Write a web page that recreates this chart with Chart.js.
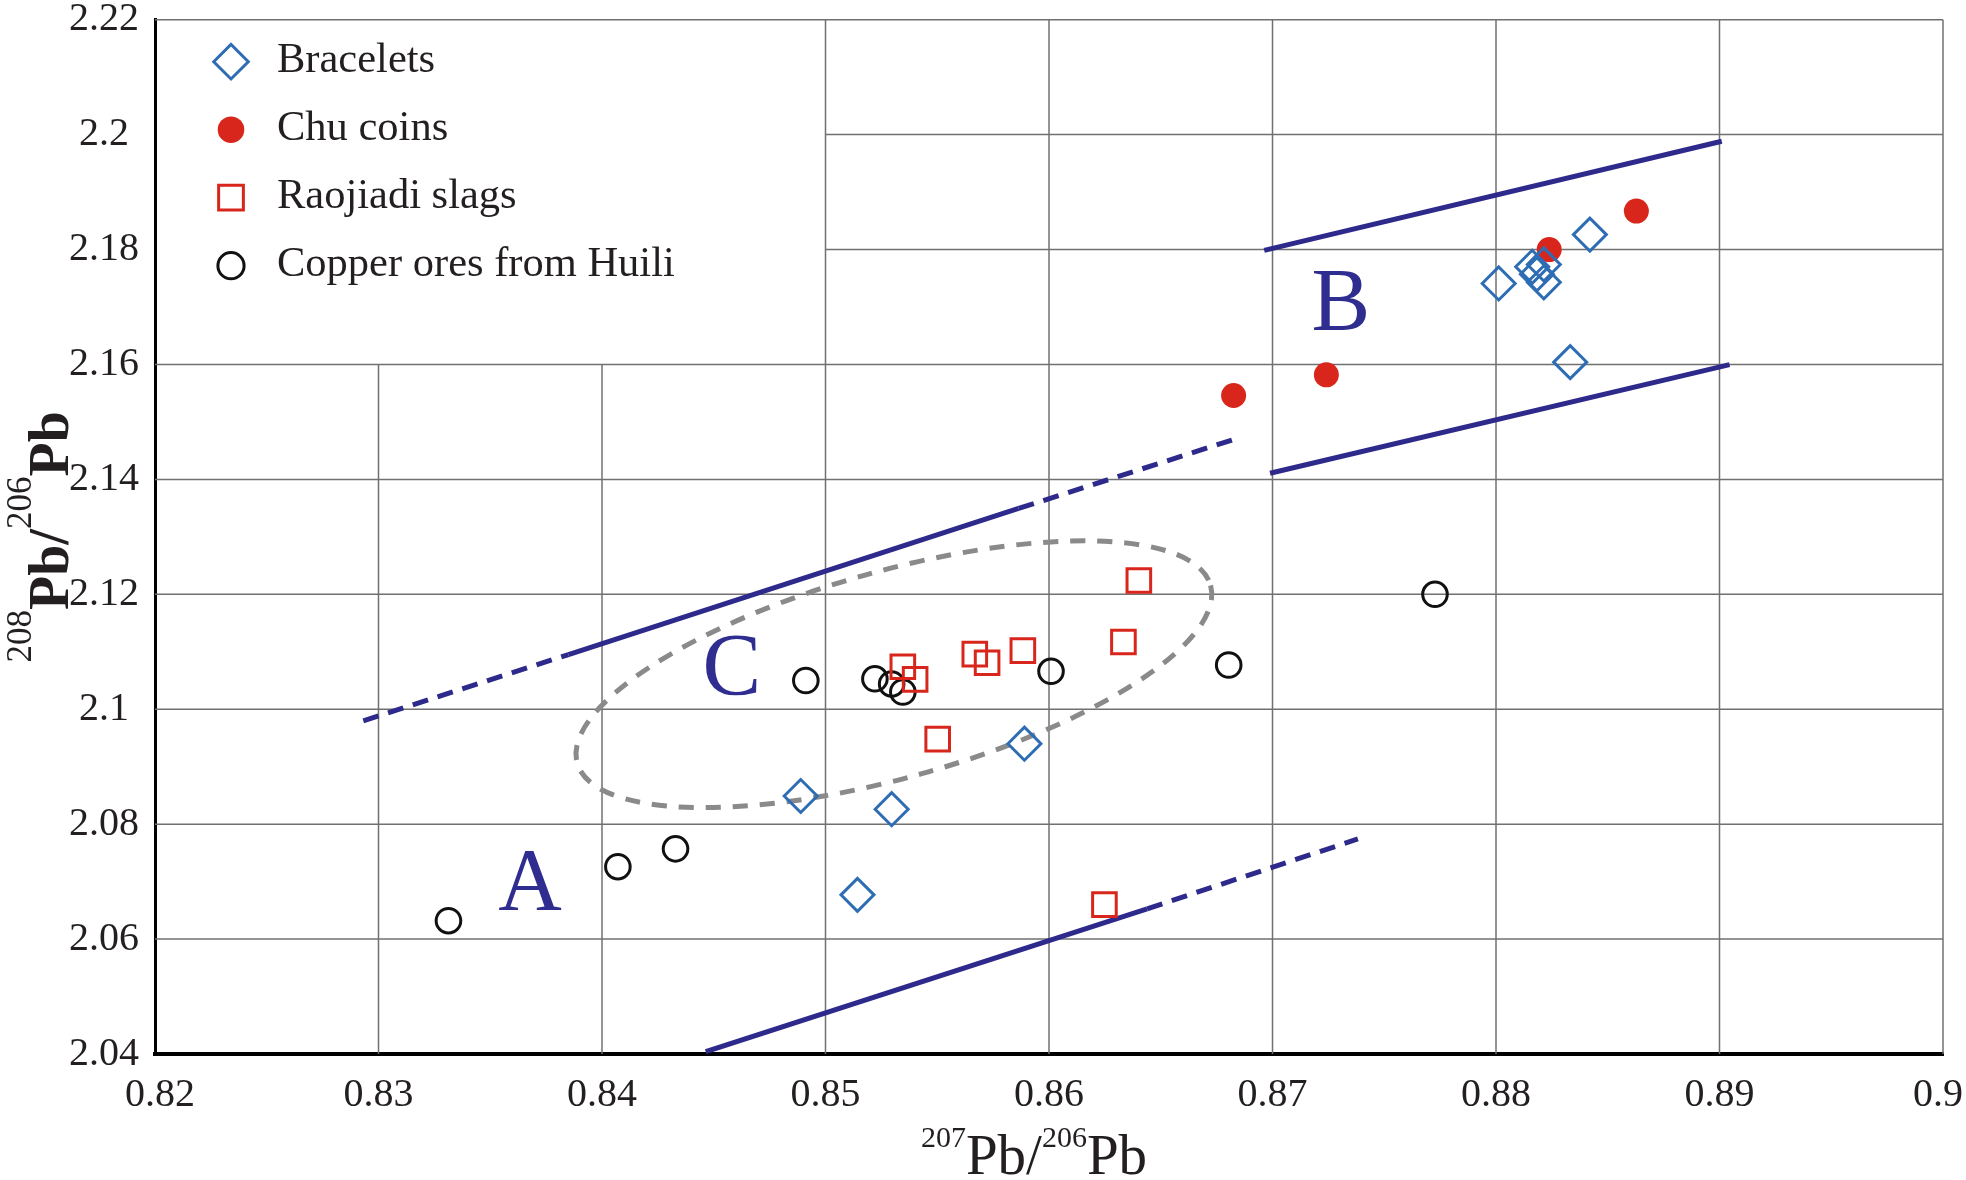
<!DOCTYPE html>
<html>
<head>
<meta charset="utf-8">
<title>208Pb/206Pb vs 207Pb/206Pb</title>
<script src="https://cdn.jsdelivr.net/npm/chart.js@4.4.1/dist/chart.umd.min.js"></script>
<style>
  html, body { margin: 0; padding: 0; background: #fff; }
  canvas { display: block; }
</style>
</head>
<body>
<canvas id="leadChart" width="1966" height="1180"></canvas>
<script>
// axis ranges
const xRange = [0.82, 0.9];
const yRange = [2.04, 2.22];
const xStep = 0.01;
const yStep = 0.02;
// grid is left out in the legend corner (x below 0.85, y above 2.16)
const legendCorner = [0.85, 2.16];

const seriesNames = ['Bracelets', 'Chu coins', 'Raojiadi slags', 'Copper ores from Huili'];

// [207Pb/206Pb, 208Pb/206Pb]
const bracelets = [
  [0.84889, 2.0849], [0.85296, 2.0826], [0.85143, 2.0677], [0.8589, 2.0940],
  [0.88012, 2.1741], [0.88162, 2.1770], [0.88214, 2.1774], [0.88183, 2.1757],
  [0.88214, 2.1743], [0.8842, 2.1826], [0.88332, 2.1604]
];
const chuCoins = [
  [0.86826, 2.1546], [0.87241, 2.1582], [0.88238, 2.1800], [0.88628, 2.1867]
];
const raojiadiSlags = [
  [0.85346, 2.1074], [0.85401, 2.1052], [0.85502, 2.0948], [0.85668, 2.1096],
  [0.85723, 2.1081], [0.85883, 2.1102], [0.86333, 2.1117], [0.86402, 2.1224],
  [0.86248, 2.0660]
];
const huiliOres = [
  [0.83313, 2.0632], [0.84071, 2.0726], [0.84329, 2.0757], [0.84912, 2.1050],
  [0.85221, 2.1053], [0.85296, 2.1044], [0.85346, 2.1030], [0.86009, 2.1066],
  [0.86804, 2.1077], [0.87727, 2.1200]
];

// field boundaries
const fieldALowerSolid = [[0.84464, 2.0404], [0.86439, 2.06527]];
const fieldALowerDash = [[0.86439, 2.06527], [0.87382, 2.07742]];
const fieldAUpperDashLeft = [[0.82932, 2.09799], [0.8385, 2.10951]];
const fieldAUpperSolid = [[0.8385, 2.10951], [0.85864, 2.13494]];
const fieldAUpperDashRight = [[0.85864, 2.13494], [0.86828, 2.14697]];
const fieldBUpper = [[0.86963, 2.17986], [0.8901, 2.19884]];
const fieldBLower = [[0.86989, 2.14106], [0.89045, 2.15998]];

// field C: centre, end of the long axis, short/long axis ratio
const fieldCCentre = [0.85306, 2.10609];
const fieldCAxisEnd = [0.86723, 2.12156];
const fieldCRatio = 0.314;

const fieldLetters = ['A', 'B', 'C'];
const fieldLetterPos = [[0.83678, 2.07036], [0.87306, 2.17126], [0.84581, 2.10777]];

const SERIF = '"Liberation Serif", "Times New Roman", serif';
const TEXT = '#231f20';
const NAVY = '#2e2a8b';

const toPts = arr => arr.map(p => ({ x: p[0], y: p[1] }));
const fmt = v => String(Number(v.toFixed(2)));

function boundary(data, dashed) {
  return {
    data: toPts(data),
    showLine: true,
    borderColor: NAVY,
    borderWidth: 5,
    borderDash: dashed ? [16, 10] : [],
    pointRadius: 0,
    pointHoverRadius: 0,
    fill: false,
    order: 10
  };
}

const gridPlugin = {
  id: 'cornerGrid',
  beforeDatasetsDraw(chart) {
    const { ctx, scales: { x, y } } = chart;
    const seg = (x1, y1, x2, y2) => {
      ctx.beginPath();
      ctx.moveTo(x.getPixelForValue(x1), y.getPixelForValue(y1));
      ctx.lineTo(x.getPixelForValue(x2), y.getPixelForValue(y2));
      ctx.stroke();
    };
    ctx.save();
    ctx.strokeStyle = '#707070';
    ctx.lineWidth = 1.5;
    x.ticks.forEach(t => {
      const v = t.value;
      if (v <= xRange[0] + 1e-9) return;
      const top = v < legendCorner[0] - 1e-9 ? legendCorner[1] : yRange[1];
      seg(v, yRange[0], v, top);
    });
    y.ticks.forEach(t => {
      const v = t.value;
      if (v <= yRange[0] + 1e-9) return;
      const start = (v > legendCorner[1] + 1e-9 && v < yRange[1] - 1e-9) ? legendCorner[0] : xRange[0];
      seg(start, v, xRange[1], v);
    });

    // field C outline
    const cx = x.getPixelForValue(fieldCCentre[0]), cy = y.getPixelForValue(fieldCCentre[1]);
    const ex = x.getPixelForValue(fieldCAxisEnd[0]), ey = y.getPixelForValue(fieldCAxisEnd[1]);
    const a = Math.hypot(ex - cx, ey - cy);
    ctx.strokeStyle = '#8a8a8a';
    ctx.lineWidth = 5;
    ctx.setLineDash([15, 12]);
    ctx.beginPath();
    ctx.ellipse(cx, cy, a, a * fieldCRatio, Math.atan2(ey - cy, ex - cx), 0, Math.PI * 2);
    ctx.stroke();
    ctx.restore();
  }
};

const labelPlugin = {
  id: 'fieldLabels',
  afterDatasetsDraw(chart) {
    const { ctx, chartArea, scales: { x, y } } = chart;
    ctx.save();
    // A, B, C
    ctx.font = '88px ' + SERIF;
    ctx.fillStyle = '#2f2d8f';
    ctx.textAlign = 'center';
    ctx.textBaseline = 'alphabetic';
    fieldLetters.forEach((s, i) => {
      ctx.fillText(s, x.getPixelForValue(fieldLetterPos[i][0]), y.getPixelForValue(fieldLetterPos[i][1]) + 29);
    });

    // legend in the top left corner
    ctx.textAlign = 'left';
    ctx.font = '42.5px ' + SERIF;
    seriesNames.forEach((name, i) => {
      const ds = chart.data.datasets[i];
      const mx = chartArea.left + 76;
      const my = chartArea.top + 42 + i * 68;
      ctx.save();
      ctx.fillStyle = ds.pointBackgroundColor;
      ctx.strokeStyle = ds.pointBorderColor;
      ctx.lineWidth = ds.pointBorderWidth;
      Chart.helpers.drawPoint(ctx, {
        pointStyle: ds.pointStyle, radius: ds.pointRadius + 0.8,
        rotation: 0, borderWidth: ds.pointBorderWidth
      }, mx, my);
      ctx.restore();
      ctx.fillStyle = TEXT;
      ctx.fillText(name, chartArea.left + 122, my + 10);
    });
    ctx.restore();
  }
};

// axis titles with raised mass numbers
function supTitle(ctx, parts, mainFont, supFont, rise) {
  let w = 0;
  parts.forEach(p => { ctx.font = p[1] ? supFont : mainFont; w += ctx.measureText(p[0]).width; });
  let cur = -w / 2;
  parts.forEach(p => {
    ctx.font = p[1] ? supFont : mainFont;
    ctx.fillText(p[0], cur, p[1] ? -rise : 0);
    cur += ctx.measureText(p[0]).width;
  });
}

const titlePlugin = {
  id: 'axisTitles',
  afterDraw(chart) {
    const { ctx, chartArea } = chart;
    ctx.save();
    ctx.fillStyle = TEXT;
    ctx.textAlign = 'left';
    ctx.textBaseline = 'alphabetic';
    ctx.save();
    ctx.translate((chartArea.left + chartArea.right) / 2 - 15, chart.height - 6);
    supTitle(ctx, [['207', 1], ['Pb/', 0], ['206', 1], ['Pb', 0]],
      '57px ' + SERIF, '30px ' + SERIF, 27);
    ctx.restore();
    ctx.save();
    ctx.translate(68, (chartArea.top + chartArea.bottom) / 2);
    ctx.rotate(-Math.PI / 2);
    supTitle(ctx, [['208', 1], ['Pb/', 0], ['206', 1], ['Pb', 0]],
      'bold 56px ' + SERIF, '35px ' + SERIF, 37);
    ctx.restore();
    ctx.restore();
  }
};

const tickFont = { family: SERIF, size: 40 };

new Chart(document.getElementById('leadChart').getContext('2d'), {
  type: 'scatter',
  data: {
    datasets: [
      {
        label: seriesNames[0], data: toPts(bracelets), pointStyle: 'rectRot',
        pointRadius: 16.5, pointBorderWidth: 3, pointBorderColor: '#2e6db4',
        pointBackgroundColor: 'rgba(0,0,0,0)', order: 1
      },
      {
        label: seriesNames[1], data: toPts(chuCoins), pointStyle: 'circle',
        pointRadius: 12.5, pointBorderWidth: 0, pointBorderColor: '#d9261c',
        pointBackgroundColor: '#d9261c', order: 2
      },
      {
        label: seriesNames[2], data: toPts(raojiadiSlags), pointStyle: 'rect',
        pointRadius: 16.7, pointBorderWidth: 3, pointBorderColor: '#d9261c',
        pointBackgroundColor: 'rgba(0,0,0,0)', order: 3
      },
      {
        label: seriesNames[3], data: toPts(huiliOres), pointStyle: 'circle',
        pointRadius: 12.3, pointBorderWidth: 3, pointBorderColor: '#111111',
        pointBackgroundColor: 'rgba(0,0,0,0)', order: 4
      },
      boundary(fieldALowerSolid, false),
      boundary(fieldALowerDash, true),
      boundary(fieldAUpperDashLeft, true),
      boundary(fieldAUpperSolid, false),
      boundary(fieldAUpperDashRight, true),
      boundary(fieldBUpper, false),
      boundary(fieldBLower, false)
    ]
  },
  options: {
    responsive: false,
    animation: false,
    devicePixelRatio: 1,
    events: [],
    layout: { padding: { top: 16, right: 23, left: 0, bottom: 0 } },
    plugins: {
      legend: { display: false },
      tooltip: { enabled: false }
    },
    scales: {
      x: {
        type: 'linear',
        min: xRange[0],
        max: xRange[1],
        grid: { display: false, drawTicks: false },
        border: { display: true, color: '#000', width: 4 },
        ticks: {
          stepSize: xStep, font: tickFont, color: TEXT, padding: 17,
          maxRotation: 0, autoSkip: false,
          // end labels sit a little inwards, as in the figure
          callback: (v, i, ticks) => i === 0 ? '\u00a0' + fmt(v)
            : (i === ticks.length - 1 ? fmt(v) + '\u00a0' : fmt(v))
        },
        afterFit: s => { s.height = 126; s.paddingLeft = 0; s.paddingRight = 0; }
      },
      y: {
        type: 'linear',
        min: yRange[0],
        max: yRange[1],
        grid: { display: false, drawTicks: false },
        border: { display: true, color: '#000', width: 3 },
        ticks: {
          stepSize: yStep, font: tickFont, color: TEXT, padding: 16,
          crossAlign: 'center', autoSkip: false, callback: v => fmt(v)
        },
        afterFit: s => { s.width = 155; s.paddingTop = 0; s.paddingBottom = 0; }
      }
    }
  },
  plugins: [gridPlugin, labelPlugin, titlePlugin]
});
</script>
</body>
</html>
